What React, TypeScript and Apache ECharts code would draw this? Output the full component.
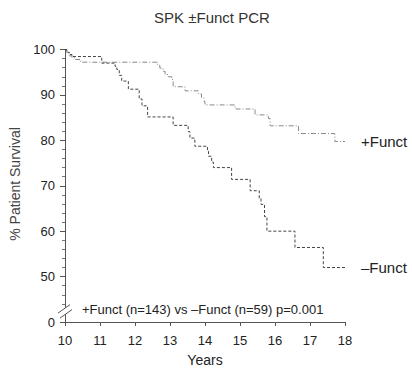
import React, { useEffect, useRef } from 'react';
import * as echarts from 'echarts';

// ---- data ----
const yearTicks = [10, 11, 12, 13, 14, 15, 16, 17, 18];
// y-axis scale values and their printed labels (broken axis: 40 on the scale is printed as "0")
const yTickValues = [40, 50, 60, 70, 80, 90, 100];
const yTickLabels = ['0', '50', '60', '70', '80', '90', '100'];

// +Funct (n=143) Kaplan-Meier steps: time (years) and survival (%)
const plusYears = [10, 10.05, 10.12, 10.2, 10.3, 10.45, 12.65, 12.71, 12.8, 12.86, 12.95, 13.05, 13.09, 13.43, 13.81, 13.9, 13.97, 14.0, 14.86, 15.43, 15.81, 15.86, 16.67, 17.71, 18.0];
const plusSurvival = [100, 99.3, 98.6, 98.2, 97.8, 97.2, 96.5, 95.9, 95.2, 94.5, 94.0, 93.4, 91.8, 90.9, 90.2, 89.4, 88.6, 87.8, 86.9, 85.6, 84.8, 83.2, 81.5, 79.75, 79.75];

// -Funct (n=59)
const minusYears = [10, 10.05, 10.12, 10.2, 11.05, 11.43, 11.48, 11.55, 11.62, 11.81, 12.12, 12.2, 12.36, 13.09, 13.52, 13.57, 13.71, 14.07, 14.1, 14.19, 14.24, 14.76, 15.29, 15.55, 15.6, 15.7, 15.77, 16.57, 17.38, 18.0];
const minusSurvival = [100, 99.4, 98.9, 98.45, 97.0, 96.3, 95.6, 94.3, 93.05, 91.26, 89.1, 87.6, 85.15, 83.3, 81.9, 80.5, 78.7, 77.6, 76.5, 75.2, 74.0, 71.4, 68.9, 67.2, 65.9, 63.2, 60.0, 56.4, 52.0, 52.0];

const titleText = 'SPK \u00b1Funct PCR';
const plusName = '+Funct';
const minusName = '\u2013Funct';
const annotationText = '+Funct (n=143) vs \u2013Funct (n=59) p=0.001';
const yName = '% Patient Survival';
const xName = 'Years';

const FONT = '"Liberation Sans", Arial, Helvetica, sans-serif';

export default function App() {
  const ref = useRef<HTMLDivElement>(null);

  useEffect(() => {
    if (!ref.current) return;
    const chart = echarts.init(ref.current, undefined, { renderer: 'svg' });

    const option: any = {
      animation: false,
      backgroundColor: '#ffffff',
      textStyle: { fontFamily: FONT },
      grid: { left: 65, right: 67, top: 49.5, bottom: 44.5 },
      xAxis: {
        type: 'value',
        min: yearTicks[0],
        max: yearTicks[yearTicks.length - 1],
        interval: 1,
        name: xName,
        nameLocation: 'middle',
        nameGap: 31,
        nameTextStyle: { fontSize: 14, color: '#222', fontFamily: FONT },
        axisLine: { show: true, lineStyle: { color: '#555', width: 1 } },
        axisTick: { show: true, length: 4, lineStyle: { color: '#555' } },
        axisLabel: {
          fontSize: 13,
          color: '#222',
          margin: 12,
          fontFamily: FONT,
          formatter: (v: number) => String(v),
        },
        splitLine: { show: false },
      },
      yAxis: {
        type: 'value',
        min: 40,
        max: 100,
        interval: 10,
        axisLine: { show: true, lineStyle: { color: '#555', width: 1 } },
        axisTick: { show: true, length: 5, lineStyle: { color: '#555' } },
        minorTick: { show: true, splitNumber: 5, length: 3, lineStyle: { color: '#777' } },
        axisLabel: {
          fontSize: 13,
          color: '#222',
          margin: 10,
          fontFamily: FONT,
          formatter: (v: number) => {
            const i = yTickValues.indexOf(v);
            return i >= 0 ? yTickLabels[i] : '';
          },
        },
        splitLine: { show: false },
      },
      series: [
        {
          type: 'line',
          name: plusName,
          step: 'end',
          symbol: 'none',
          data: plusYears.map((x, i) => [x, plusSurvival[i]]),
          lineStyle: { color: '#8a8a8a', width: 1, type: [5, 2, 1, 2] },
          endLabel: {
            show: true,
            formatter: plusName,
            distance: 16,
            fontSize: 15,
            color: '#222',
            fontFamily: FONT,
          },
          z: 3,
        },
        {
          type: 'line',
          name: minusName,
          step: 'end',
          symbol: 'none',
          data: minusYears.map((x, i) => [x, minusSurvival[i]]),
          lineStyle: { color: '#444', width: 1, type: [3, 2] },
          endLabel: {
            show: true,
            formatter: minusName,
            distance: 16,
            fontSize: 15,
            color: '#222',
            fontFamily: FONT,
          },
          z: 4,
        },
      ],
    };
    chart.setOption(option);

    const axisX = chart.convertToPixel({ xAxisIndex: 0 }, 10) as number;
    const yb = chart.convertToPixel({ yAxisIndex: 0 }, 42.4) as number;

    chart.setOption({
      graphic: [
        {
          type: 'text',
          x: 212,
          y: 17,
          z: 100,
          style: {
            text: titleText,
            fontSize: 15,
            fill: '#333',
            fontFamily: FONT,
            textAlign: 'center',
            textVerticalAlign: 'middle',
          },
        },
        {
          type: 'text',
          x: 15,
          y: 184,
          rotation: Math.PI / 2,
          z: 100,
          style: {
            text: yName,
            fontSize: 14,
            fill: '#444',
            fontFamily: FONT,
            textAlign: 'center',
            textVerticalAlign: 'middle',
          },
        },
        {
          type: 'text',
          x: 82,
          y: 309,
          z: 100,
          style: {
            text: annotationText,
            fontSize: 13,
            fill: '#222',
            fontFamily: FONT,
            textAlign: 'left',
            textVerticalAlign: 'middle',
          },
        },
        {
          type: 'polygon',
          z: 100,
          shape: {
            points: [
              [axisX - 7, yb + 2],
              [axisX + 5, yb - 6.5],
              [axisX + 7, yb - 1.5],
              [axisX - 5, yb + 7],
            ],
          },
          style: { fill: '#ffffff', stroke: 'none' },
        },
        {
          type: 'line',
          z: 101,
          shape: { x1: axisX - 7, y1: yb + 2, x2: axisX + 5, y2: yb - 6.5 },
          style: { stroke: '#555', lineWidth: 1 },
        },
        {
          type: 'line',
          z: 101,
          shape: { x1: axisX - 5, y1: yb + 7, x2: axisX + 7, y2: yb - 1.5 },
          style: { stroke: '#555', lineWidth: 1 },
        },
      ],
    });

    return () => chart.dispose();
  }, []);

  return (
    <div
      ref={ref}
      style={{ position: 'absolute', left: 0, top: 0, width: 412, height: 372, background: '#fff' }}
    />
  );
}
